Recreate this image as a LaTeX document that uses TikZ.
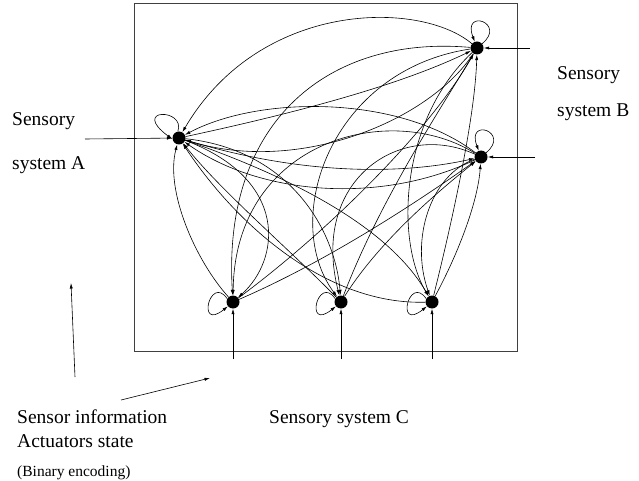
\documentclass[tikz,border=0pt]{standalone}
\usepackage{fontspec}
\setmainfont{Liberation Serif}
\usetikzlibrary{arrows.meta}
\begin{document}
\begin{tikzpicture}[x=1pt,y=-1pt,
  dot/.style={circle,fill=black,inner sep=0pt,minimum size=13pt},
  arr/.style={-{Latex[length=5.5pt,width=3.2pt]},line width=0.6pt},
  lbl/.style={font=\fontsize{19.5}{22}\selectfont,inner sep=0pt},
  small/.style={font=\fontsize{15.5}{18}\selectfont,inner sep=0pt}]
\useasboundingbox (0,0) rectangle (639,481);
\draw[line width=0.8pt,black!75] (134,3) rectangle (517,351);
% nodes
\node[dot] (A) at (179,138) {};
\node[dot] (B1) at (477,48) {};
\node[dot] (B2) at (481,157) {};
\node[dot] (C1) at (233,302) {};
\node[dot] (C2) at (341,302) {};
\node[dot] (C3) at (432,302) {};
% external inputs
\coordinate (inA) at (85,139);
\coordinate (inB1) at (530,48);
\coordinate (inB2) at (535,157);
\coordinate (inC1) at (233,359);
\coordinate (inC2) at (341,359);
\coordinate (inC3) at (432,359);
\draw[arr] (inA) -- (A);
\draw[arr] (inB1) -- (B1);
\draw[arr] (inB2) -- (B2);
\draw[arr] (inC1) -- (C1);
\draw[arr] (inC2) -- (C2);
\draw[arr] (inC3) -- (C3);
% self loops
\draw[arr] (A.100) .. controls (186,108) and (130,108) .. (A.190);
\draw[arr] (B1.40) .. controls (507,23) and (462,8) .. (B1.110);
\draw[arr] (B2.40) .. controls (511,132) and (466,117) .. (B2.110);
\draw[arr] (C1.150) .. controls (210,274) and (196,332) .. (C1.220);
\draw[arr] (C2.150) .. controls (318,274) and (304,332) .. (C2.220);
\draw[arr] (C3.150) .. controls (409,274) and (395,332) .. (C3.220);
% A - B1
\draw[arr] (B1) .. controls (420,0) and (260,0) .. (A);
\draw[arr] (A) .. controls (300,112) and (400,85) .. (B1);
\draw[arr] (B1) .. controls (430,120) and (300,175) .. (A);
% A - B2
\draw[arr] (B2) .. controls (400,95) and (260,95) .. (A);
\draw[arr] (A) .. controls (300,175) and (400,175) .. (B2);
\draw[arr] (B2) .. controls (380,205) and (260,195) .. (A);
% C1
\draw[arr] (A) .. controls (290,180) and (280,260) .. (C1);
\draw[arr] (B1) .. controls (330,35) and (222,120) .. (C1);
\draw[arr] (B2) .. controls (390,100) and (235,140) .. (C1);
\draw[arr] (C1) .. controls (195,260) and (165,190) .. (A);
\draw[arr] (C1) .. controls (330,260) and (420,200) .. (B2);
\draw[arr] (C1) .. controls (330,230) and (430,130) .. (B1);
% C2
\draw[arr] (A) .. controls (290,150) and (335,230) .. (C2);
\draw[arr] (B1) .. controls (330,70) and (280,220) .. (C2);
\draw[arr] (B2) .. controls (400,120) and (310,180) .. (C2);
\draw[arr] (C2) .. controls (290,250) and (220,190) .. (A);
\draw[arr] (C2) .. controls (380,240) and (440,190) .. (B2);
\draw[arr] (C2) .. controls (380,200) and (440,110) .. (B1);
% C3
\draw[arr] (A) .. controls (300,180) and (390,230) .. (C3);
\draw[arr] (B1) .. controls (400,120) and (395,240) .. (C3);
\draw[arr] (B2) .. controls (430,175) and (410,240) .. (C3);
\draw[arr] (C3) .. controls (330,305) and (240,230) .. (A);
\draw[arr] (C3) .. controls (450,230) and (475,120) .. (B1);
\draw[arr] (C3) .. controls (460,250) and (478,200) .. (B2);
% free arrows
\coordinate (p1) at (75,377);
\coordinate (p2) at (71,283);
\coordinate (q1) at (121,400);
\coordinate (q2) at (210,378);
\draw[arr] (p1) -- (p2);
\draw[arr] (q1) -- (q2);
% labels
\node[lbl,anchor=base west] (tA1) at (12,126) {Sensory};
\node[lbl,anchor=base west] (tA2) at (12,170) {system A};
\node[lbl,anchor=base west] (tB1) at (557,80) {Sensory};
\node[lbl,anchor=base west] (tB2) at (557,117) {system B};
\node[lbl,anchor=base west] (tS1) at (17,423) {Sensor information};
\node[lbl,anchor=base west] (tS2) at (17,447) {Actuators state};
\node[small,anchor=base west] (tS3) at (17,476) {(Binary encoding)};
\node[lbl,anchor=base west] (tC) at (269,423) {Sensory system C};
\end{tikzpicture}
\end{document}
